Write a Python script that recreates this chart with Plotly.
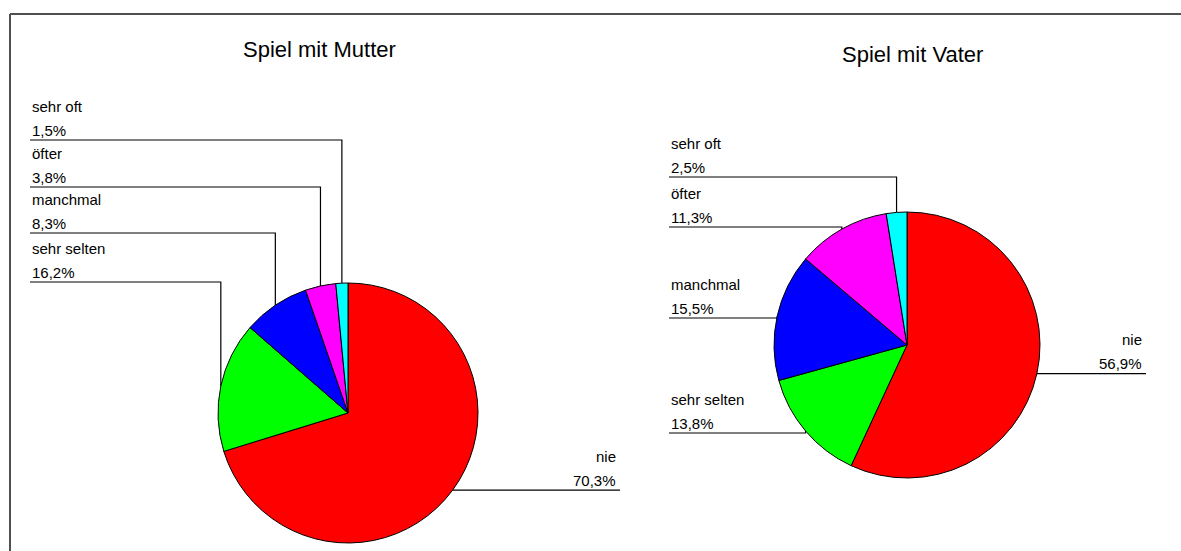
import math
import plotly.graph_objects as go

W, H = 1181, 551

kategorien = ["nie", "sehr selten", "manchmal", "öfter", "sehr oft"]
farben = ["#FF0000", "#00FF00", "#0000FF", "#FF00FF", "#00FFFF"]

mutter = [70.3, 16.2, 8.3, 3.8, 1.5]
vater = [56.9, 13.8, 15.5, 11.3, 2.5]

schrift = "Liberation Sans, Arial, sans-serif"

# Lage der beiden Kreise und der Beschriftungen (Pixel im Fenster)
kreise = [
    dict(titel="Spiel mit Mutter", werte=mutter, cx=348, cy=413, r=130, tx=319, ty=49,
         links_x=30, rechts_x=620, zeilen=[None, 282, 233, 187, 140]),
    dict(titel="Spiel mit Vater", werte=vater, cx=907, cy=345, r=133, tx=912, ty=54,
         links_x=669, rechts_x=1146, zeilen=[None, 433, 318, 227, 177]),
]

def fmt(v):
    return f"{v:.1f}".replace(".", ",") + "%"

fig = go.Figure()
anns = []

for k in kreise:
    cx, cy, r = k["cx"], k["cy"], k["r"]
    fig.add_trace(go.Pie(
        labels=kategorien, values=k["werte"], sort=False, direction="clockwise", rotation=0,
        marker=dict(colors=farben, line=dict(color="black", width=1)),
        textinfo="none", hoverinfo="label+percent", showlegend=False,
        domain=dict(x=[(cx - r) / W, (cx + r) / W], y=[1 - (cy + r) / H, 1 - (cy - r) / H]),
    ))
    anns.append(dict(x=k["tx"], y=k["ty"], text=k["titel"], xref="x", yref="y", showarrow=False,
                     xanchor="center", yanchor="middle", font=dict(family=schrift, size=22, color="black")))

    total = sum(k["werte"])
    cum = 0
    xs, ys = [], []
    for i, v in enumerate(k["werte"]):
        th = 2 * math.pi * (cum + v / 2) / total
        cum += v
        mx = cx + r * math.sin(th)
        my = cy - r * math.cos(th)
        if k["zeilen"][i] is None:
            ly = my
            xs += [mx, k["rechts_x"], None]
            ys += [my, my, None]
            ax, anc = k["rechts_x"] - 2, "right"
        else:
            ly = k["zeilen"][i]
            xs += [k["links_x"], mx, mx, None]
            ys += [ly, ly, my, None]
            ax, anc = k["links_x"], "left"
        for txt, dy in [(kategorien[i], -34), (fmt(v), -10)]:
            anns.append(dict(x=ax, y=ly + dy, text=txt, xref="x", yref="y", showarrow=False,
                             xanchor=anc, yanchor="middle", font=dict(family=schrift, size=15, color="black")))
    fig.add_trace(go.Scatter(x=xs, y=ys, mode="lines", line=dict(color="black", width=1.2),
                             hoverinfo="skip", showlegend=False))

fig.update_layout(
    width=W, height=H, margin=dict(l=0, r=0, t=0, b=0),
    paper_bgcolor="white", plot_bgcolor="white",
    xaxis=dict(range=[0, W], visible=False, fixedrange=True),
    yaxis=dict(range=[H, 0], visible=False, fixedrange=True),
    annotations=anns,
    shapes=[
        dict(type="line", xref="x", yref="y", x0=10, y0=14, x1=W, y1=14, line=dict(color="#505050", width=2)),
        dict(type="line", xref="x", yref="y", x0=10, y0=14, x1=10, y1=H, line=dict(color="#505050", width=2)),
    ],
)

# Seitenrand entfernen, damit die Grafik genau ins Fenster passt
fig.write_html("out.html", config={"displayModeBar": False},
               post_script="document.body.style.margin='0';document.body.style.overflow='hidden';")
